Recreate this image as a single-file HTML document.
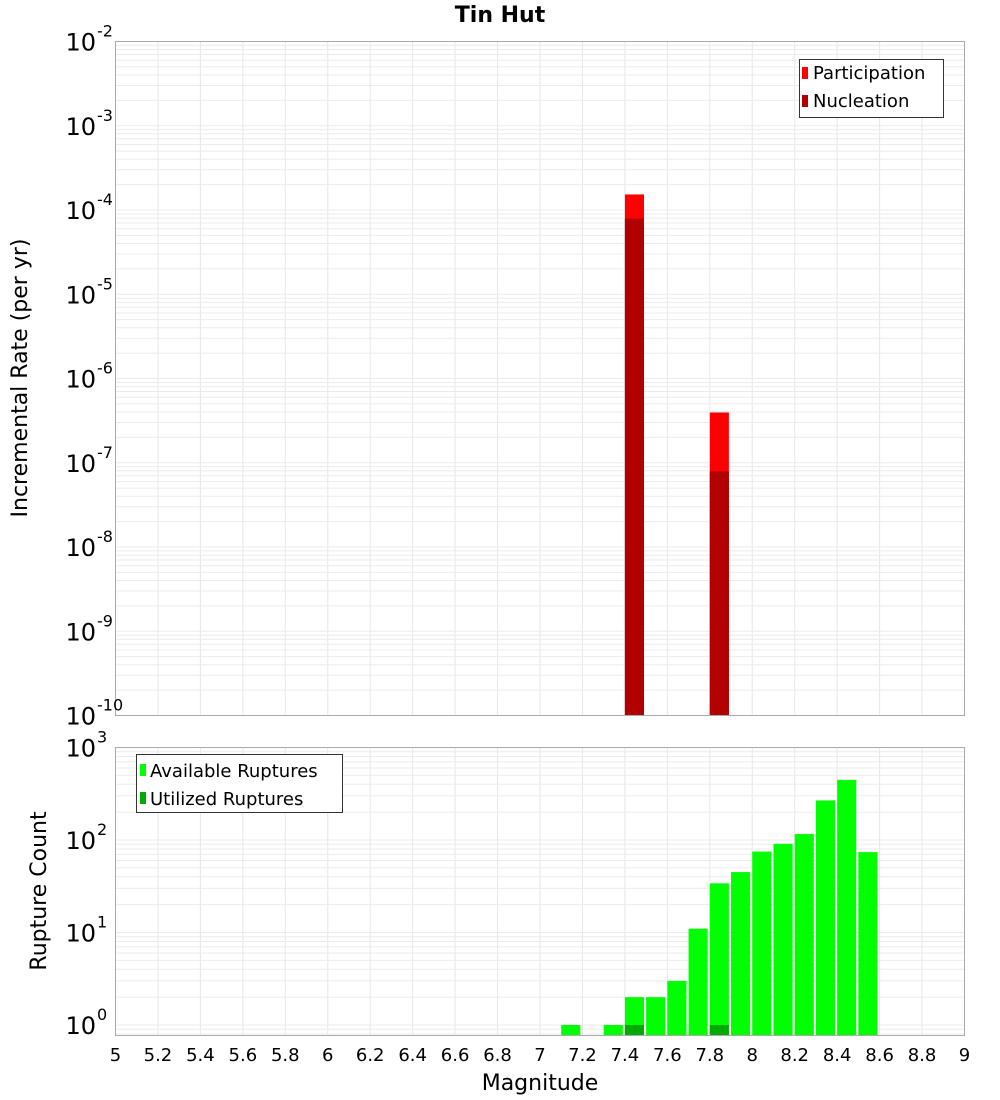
<!DOCTYPE html>
<html><head><meta charset="utf-8"><style>
body{margin:0;background:#fff;}
svg{display:block;font-family:"DejaVu Sans","Liberation Sans",sans-serif;}
</style></head><body>
<svg id="chart" width="1000" height="1100" viewBox="0 0 1000 1100" xmlns="http://www.w3.org/2000/svg">
<text x="500" y="22" text-anchor="middle" font-size="22" font-weight="bold">Tin Hut</text>
<g id="top-grid"></g>
<g id="bot-grid"></g>
<g id="top-bars"></g>
<g id="bot-bars"></g>
<rect x="115.5" y="41.5" width="849" height="674" fill="none" stroke="#aaa"/>
<rect x="115.5" y="747.5" width="849" height="288" fill="none" stroke="#aaa"/>
<g id="top-yt"></g>
<g id="bot-yt"></g>
<g id="xt"></g>
<text transform="translate(27,378) rotate(-90)" text-anchor="middle" font-size="22">Incremental Rate (per yr)</text>
<text transform="translate(46,891) rotate(-90)" text-anchor="middle" font-size="22">Rupture Count</text>
<text x="540" y="1090" text-anchor="middle" font-size="22">Magnitude</text>
<g>
<rect x="799.5" y="59.5" width="144" height="58" fill="#fff" stroke="#333"/>
<rect x="802" y="67" width="6" height="12" fill="#ff0000"/>
<text x="813" y="79" font-size="18">Participation</text>
<rect x="802" y="95" width="6" height="12" fill="#b00000"/>
<text x="813" y="107" font-size="18">Nucleation</text>
</g>
<g>
<rect x="136.5" y="754.5" width="206" height="58" fill="#fff" stroke="#333"/>
<rect x="140" y="764" width="6" height="12" fill="#00ff00"/>
<text x="150" y="777" font-size="18">Available Ruptures</text>
<rect x="140" y="792" width="6" height="12" fill="#00aa00"/>
<text x="150" y="805" font-size="18">Utilized Ruptures</text>
</g>
</svg>
<script>
const rateMags=[7.4,7.8];
const participation=[1.53e-4,3.95e-7];
const nucleation=[7.9e-5,7.9e-8];
const countMags=[7.1,7.3,7.4,7.5,7.6,7.7,7.8,7.9,8.0,8.1,8.2,8.3,8.4,8.5];
const available=[1,1,2,2,3,11,34,45,75,91,116,268,447,74];
const utilMags=[7.4,7.8];
const utilized=[1,1];
const xTicks=[5,5.2,5.4,5.6,5.8,6,6.2,6.4,6.6,6.8,7,7.2,7.4,7.6,7.8,8,8.2,8.4,8.6,8.8,9];
const topExps=[-2,-3,-4,-5,-6,-7,-8,-9,-10];
const botExps=[3,2,1,0];

const NS="http://www.w3.org/2000/svg";
const X0=115.5,X1=964.5;
const xs=m=>X0+(m-5)/4*(X1-X0);
const yTop=v=>41.5+(-2-Math.log10(v))*84.25;
const yBot=v=>747.5+(3-Math.log10(v))*92.5;
function mk(tag,attrs,parent){const e=document.createElementNS(NS,tag);for(const k in attrs)e.setAttribute(k,attrs[k]);parent.appendChild(e);return e;}
const tg=document.getElementById('top-grid'),bg=document.getElementById('bot-grid');
// vertical grids
xTicks.forEach(t=>{
 const l1=mk('line',{x1:xs(t),x2:xs(t),y1:41.5,y2:715.5,stroke:'#e6e6e6'},tg);
 
 
 const l2=mk('line',{x1:xs(t),x2:xs(t),y1:747.5,y2:1035.5,stroke:'#e6e6e6'},bg);
 
 
});
for(let e=-10;e<-2;e++)for(let k=1;k<10;k++){const y=yTop(k*Math.pow(10,e));
 const l=mk('line',{x1:X0,x2:X1,y1:y,y2:y,stroke:'#ebebeb'},tg);
 
 }
for(let e=-1;e<3;e++)for(let k=1;k<10;k++){const y=yBot(k*Math.pow(10,e));if(y>1035.5||y<747.5)continue;
 const l=mk('line',{x1:X0,x2:X1,y1:y,y2:y,stroke:'#ebebeb'},bg);
 
 }
// bars
const BW=0.09;
const tb=document.getElementById('top-bars');
rateMags.forEach((m,i)=>{
 const x=xs(m),w=xs(m+BW)-x;
 let y=yTop(participation[i]);
 const r=mk('rect',{x:x,y:y,width:w,height:715.5-y,fill:'#ff0000'},tb);
 
 
 y=yTop(nucleation[i]);
 const r2=mk('rect',{x:x,y:y,width:w,height:715.5-y,fill:'#b00000'},tb);
 
 
});
const bb=document.getElementById('bot-bars');
countMags.forEach((m,i)=>{
 const x=xs(m),w=xs(m+BW)-x,y=yBot(available[i]);
 const r=mk('rect',{x:x,y:y,width:w,height:1035.5-y,fill:'#00ff00'},bb);
 
 
});
utilMags.forEach((m,i)=>{
 const x=xs(m),w=xs(m+BW)-x,y=yBot(utilized[i]);
 const r=mk('rect',{x:x,y:y,width:w,height:1035.5-y,fill:'#00aa00'},bb);
 
 
});
// tick labels
function ylab(parent,y,e){
 const t=mk('text',{x:96,y:y+9,'text-anchor':'end','font-size':24},parent);
 t.textContent='10';
 
 
 const s=mk('text',{x:97,y:y-5,'text-anchor':'start','font-size':16},parent);
 s.textContent=String(e);
 
 
}
const ty=document.getElementById('top-yt');
topExps.forEach(e=>ylab(ty,yTop(Math.pow(10,e)),e));
const by=document.getElementById('bot-yt');
botExps.forEach(e=>ylab(by,yBot(Math.pow(10,e)),e));
const xt=document.getElementById('xt');
xTicks.forEach(t=>{
 const tx=mk('text',{x:xs(t),y:1061,'text-anchor':'middle','font-size':18},xt);
 tx.textContent=String(t);
 
 
});
</script>
</body></html>
